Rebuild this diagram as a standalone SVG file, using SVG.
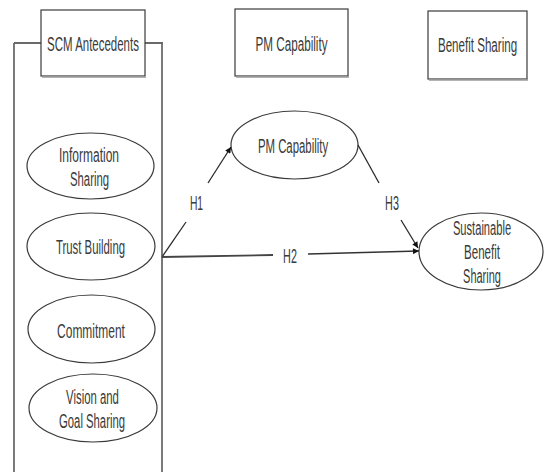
<svg xmlns="http://www.w3.org/2000/svg" width="545" height="472" viewBox="0 0 545 472">
<style>
.t{font-family:"Liberation Sans",Arial,sans-serif;font-size:20px;fill:#3a3a3a;text-anchor:middle}
.box{fill:#fff;stroke:#3a3a3a;stroke-width:1.2}
.sh{stroke:#9a9a9a;stroke-width:1.5;fill:none}
.el{fill:#fff;stroke:#3a3a3a;stroke-width:1.2}
.br{stroke:#333;stroke-width:1.3;fill:none}
.brh{stroke:#6a6a6a;stroke-width:2.2;fill:none}
.c{stroke:#2a2a2a;stroke-width:1.3;fill:none}
</style>
<defs>
<marker id="ah" viewBox="0 0 10 10" refX="10" refY="5" markerWidth="7" markerHeight="6" markerUnits="userSpaceOnUse" orient="auto">
<path d="M0,0 L10,5 L0,10 z" fill="#111"/>
</marker>
</defs>
<rect width="545" height="472" fill="#fff"/>
<g id="bracket">
<path class="br" d="M14,43 V472 M162,43 V472"/>
<path class="brh" d="M14,43 H41 M145,43 H163"/>
</g>
<g id="scm-antecedents">
<rect class="box" x="41" y="10" width="104" height="66"/>
<line class="sh" x1="42" y1="77" x2="146" y2="77"/>
<text class="t" transform="translate(93 51) scale(0.6 1)" textLength="153" lengthAdjust="spacingAndGlyphs">SCM Antecedents</text>
</g>
<g id="pm-capability-header">
<rect class="box" x="235" y="9" width="113" height="67"/>
<line class="sh" x1="236" y1="77" x2="349" y2="77"/>
<text class="t" transform="translate(291.5 51) scale(0.6 1)" textLength="120" lengthAdjust="spacingAndGlyphs">PM Capability</text>
</g>
<g id="benefit-sharing-header">
<rect class="box" x="428" y="11" width="99" height="68"/>
<line class="sh" x1="429" y1="80" x2="528" y2="80"/>
<text class="t" transform="translate(477.5 52) scale(0.6 1)" textLength="132" lengthAdjust="spacingAndGlyphs">Benefit Sharing</text>
</g>
<g id="information-sharing">
<ellipse class="el" cx="90.5" cy="166" rx="63.5" ry="33"/>
<text class="t" transform="translate(89 162) scale(0.6 1)" textLength="100" lengthAdjust="spacingAndGlyphs">Information</text>
<text class="t" transform="translate(89.5 186) scale(0.6 1)" textLength="65" lengthAdjust="spacingAndGlyphs">Sharing</text>
</g>
<g id="trust-building">
<ellipse class="el" cx="91" cy="246.5" rx="64" ry="33.5"/>
<text class="t" transform="translate(90.5 254) scale(0.6 1)" textLength="115" lengthAdjust="spacingAndGlyphs">Trust Building</text>
</g>
<g id="commitment">
<ellipse class="el" cx="91.5" cy="329" rx="63.5" ry="34"/>
<text class="t" transform="translate(91 338) scale(0.6 1)" textLength="113" lengthAdjust="spacingAndGlyphs">Commitment</text>
</g>
<g id="vision-goal-sharing">
<ellipse class="el" cx="93" cy="408" rx="64" ry="34"/>
<text class="t" transform="translate(92.5 404) scale(0.6 1)" textLength="88" lengthAdjust="spacingAndGlyphs">Vision and</text>
<text class="t" transform="translate(92 428) scale(0.6 1)" textLength="110" lengthAdjust="spacingAndGlyphs">Goal Sharing</text>
</g>
<g id="pm-capability">
<ellipse class="el" cx="294.5" cy="145" rx="63.5" ry="34"/>
<text class="t" transform="translate(293 153) scale(0.6 1)" textLength="117" lengthAdjust="spacingAndGlyphs">PM Capability</text>
</g>
<g id="sustainable-benefit-sharing">
<ellipse class="el" cx="481" cy="251.5" rx="62" ry="38.5"/>
<text class="t" transform="translate(482 235) scale(0.6 1)" textLength="97" lengthAdjust="spacingAndGlyphs">Sustainable</text>
<text class="t" transform="translate(482 259) scale(0.6 1)" textLength="60" lengthAdjust="spacingAndGlyphs">Benefit</text>
<text class="t" transform="translate(482 283) scale(0.6 1)" textLength="63" lengthAdjust="spacingAndGlyphs">Sharing</text>
</g>
<g id="connectors">
<path class="c" d="M162,257 L186,222"/>
<path class="c" d="M208,183 L231,147" marker-end="url(#ah)"/>
<text class="t" transform="translate(196.5 210) scale(0.6 1)" textLength="22" lengthAdjust="spacingAndGlyphs">H1</text>
<path class="c" d="M162,257 L273,255" style="stroke-width:1.8;stroke:#444"/>
<path class="c" d="M308,254 L419,251" marker-end="url(#ah)" style="stroke-width:1.6;stroke:#333"/>
<text class="t" transform="translate(290 263) scale(0.6 1)" textLength="23" lengthAdjust="spacingAndGlyphs">H2</text>
<path class="c" d="M358,145 L379,183"/>
<path class="c" d="M401,220 L418,248" marker-end="url(#ah)"/>
<text class="t" transform="translate(392 210) scale(0.6 1)" textLength="23" lengthAdjust="spacingAndGlyphs">H3</text>
</g>
</svg>
